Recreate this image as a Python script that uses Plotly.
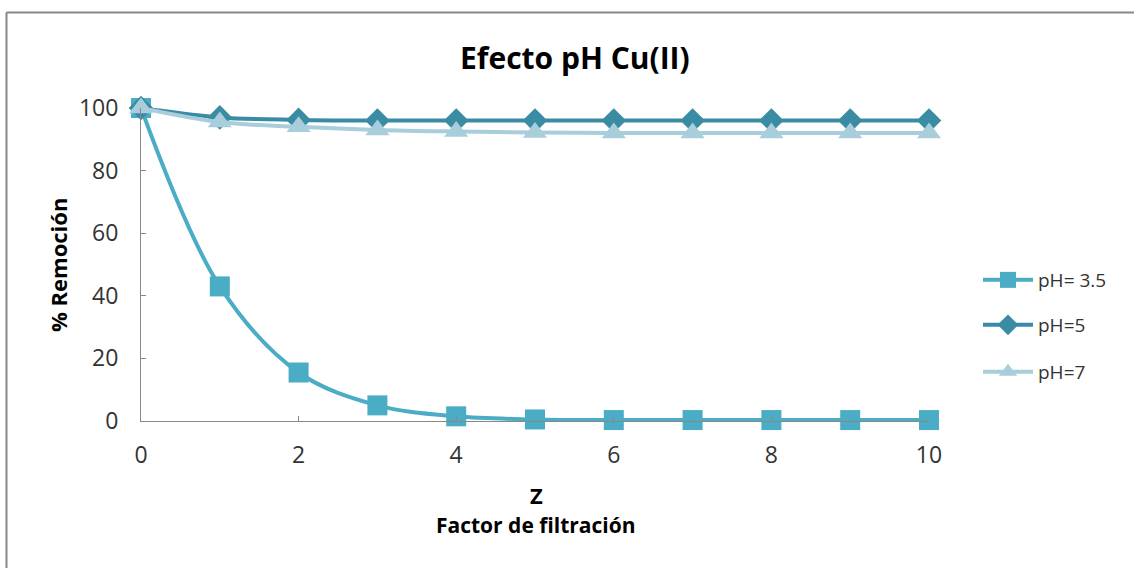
import plotly.graph_objects as go

z = [0, 1, 2, 3, 4, 5, 6, 7, 8, 9, 10]
ph35 = [100, 43, 15.5, 5, 1.5, 0.5, 0.3, 0.3, 0.3, 0.3, 0.3]
ph5 = [100, 97, 96.2, 96, 96, 96, 96, 96, 96, 96, 96]
ph7 = [100, 95.5, 94, 93, 92.5, 92.2, 92, 92, 92, 92, 92]
names = ["pH= 3.5", "pH=5", "pH=7"]
colors = ["#4BACC6", "#3A8CA4", "#A8CEDC"]
symbols = ["square", "diamond", "triangle-up"]
msizes = [20, 19, 21]
series = [ph35, ph5, ph7]

L, R, T, B = 141, 929, 108, 421
W, H = 1134, 568
pw, ph = R - L, B - T


def px(x):
    return (x - L) / pw


def py(y):
    return (B - y) / ph


FONT = "Open Sans"
fig = go.Figure()
legend_names = ["legend", "legend2", "legend3"]
legend_y = [280, 325, 372]
for i, (nm, vals) in enumerate(zip(names, series)):
    fig.add_trace(go.Scatter(
        x=z, y=vals, name=nm, mode="lines+markers",
        line=dict(color=colors[i], width=4, shape="spline", smoothing=1),
        marker=dict(symbol=symbols[i], size=msizes[i], color=colors[i]),
        cliponaxis=False, legend=legend_names[i],
    ))

leg_common = dict(font=dict(family=FONT, size=19, color="#333"),
                  bgcolor="rgba(0,0,0,0)", xanchor="left", yanchor="middle",
                  itemwidth=50)


def ann(text, x, y, size, angle=0):
    return dict(text=text, x=px(x), y=py(y), xref="paper", yref="paper",
                xanchor="center", yanchor="middle", showarrow=False,
                textangle=angle, font=dict(family=FONT, size=size, color="#000"))


fig.update_layout(
    width=W, height=H,
    margin=dict(l=L, r=W - R, t=T, b=H - B),
    paper_bgcolor="white", plot_bgcolor="white",
    showlegend=True,
    legend=dict(x=px(978), y=py(legend_y[0]), **leg_common),
    legend2=dict(x=px(978), y=py(legend_y[1]), **leg_common),
    legend3=dict(x=px(978), y=py(legend_y[2]), **leg_common),
    xaxis=dict(range=[0, 10], tickvals=[0, 2, 4, 6, 8, 10], showgrid=False,
               zeroline=False, showline=True, linecolor="#888", linewidth=1,
               ticks="inside", ticklen=5, tickcolor="#888",
               tickfont=dict(family=FONT, size=23, color="#333"),
               ticklabelstandoff=13),
    yaxis=dict(range=[0, 100], tickvals=[0, 20, 40, 60, 80, 100], showgrid=False,
               zeroline=False, showline=True, linecolor="#888", linewidth=1,
               ticks="inside", ticklen=5, tickcolor="#888",
               tickfont=dict(family=FONT, size=23, color="#333"),
               ticklabelstandoff=17),
    annotations=[
        ann("<b>Efecto pH Cu(II)</b>", 575, 57, 30),
        ann("<b>Z</b>", 536, 495, 22),
        ann("<b>Factor de filtración</b>", 536, 525, 21),
        ann("<b>% Remoción</b>", 58, 265, 22, -90),
    ],
    shapes=[
        dict(type="line", xref="paper", yref="paper", x0=px(6.5), x1=px(6.5),
             y0=py(12.5), y1=py(575), line=dict(color="#878787", width=2)),
        dict(type="line", xref="paper", yref="paper", x0=px(6.5), x1=px(1140),
             y0=py(12.5), y1=py(12.5), line=dict(color="#878787", width=2)),
    ],
)

fig.write_html("out.html", config={"displayModeBar": False},
               post_script="document.body.style.margin='0px';document.body.style.overflow='hidden';")
